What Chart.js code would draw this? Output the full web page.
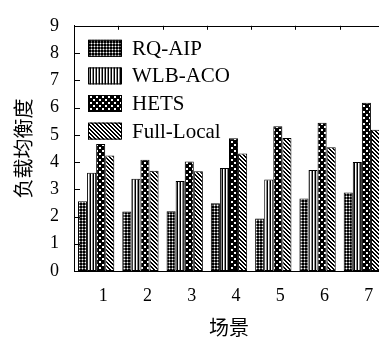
<!DOCTYPE html>
<html>
<head>
<meta charset="utf-8">
<script src="https://cdn.jsdelivr.net/npm/chart.js@4/dist/chart.umd.min.js"></script>
<style>
  html, body { margin: 0; padding: 0; background: #fff; overflow: hidden; }
  #wrap { width: 379px; height: 338px; overflow: hidden; }
</style>
</head>
<body>
<div id="wrap"><canvas id="c" width="390" height="338"></canvas></div>
<script>
// Scenarios on the x axis
const scenes = ['1', '2', '3', '4', '5', '6', '7'];
// Series names
const seriesNames = ['RQ-AIP', 'WLB-ACO', 'HETS', 'Full-Local'];
// Load-balance degree per scenario
const rqAip     = [2.56, 2.18, 2.19, 2.49, 1.93, 2.66, 2.88];
const wlbAco    = [3.61, 3.39, 3.30, 3.78, 3.36, 3.71, 4.00];
const hets      = [4.66, 4.08, 4.02, 4.87, 5.31, 5.44, 6.18];
const fullLocal = [4.24, 3.68, 3.66, 4.31, 4.88, 4.54, 5.18];
// Y axis ticks
const yTicks = [0, 1, 2, 3, 4, 5, 6, 7, 8, 9];

const SERIF = '"Liberation Serif", serif';
const CJK = '"Noto Sans CJK SC", sans-serif';
Chart.defaults.color = '#000';
Chart.defaults.font.family = SERIF;

// Build a repeating fill pattern from a tiny tile
function makePattern(w, h, paint) {
  const t = document.createElement('canvas');
  t.width = w; t.height = h;
  const g = t.getContext('2d');
  paint(g, w, h);
  return document.getElementById('c').getContext('2d').createPattern(t, 'repeat');
}
const px = (g, x, y, c) => { g.fillStyle = c; g.fillRect(x, y, 1, 1); };

// dense grid: black with light crossing lines
const patGrid = makePattern(3, 3, (g) => {
  g.fillStyle = '#000'; g.fillRect(0, 0, 3, 3);
  px(g, 1, 1, '#fff');
  px(g, 1, 0, '#666'); px(g, 1, 2, '#666');
  px(g, 0, 1, '#666'); px(g, 2, 1, '#666');
});
// vertical stripes
const patVert = makePattern(3, 1, (g) => {
  px(g, 0, 0, '#000'); px(g, 1, 0, '#fff'); px(g, 2, 0, '#888');
});
// staggered white squares on black
const patCheck = makePattern(6, 6, (g) => {
  g.fillStyle = '#000'; g.fillRect(0, 0, 6, 6);
  g.fillStyle = '#fff';
  g.fillRect(0, 0, 2, 2);
  g.fillRect(3, 3, 2, 2);
});
// diagonal stripes running down to the right
const patDiag = makePattern(4, 4, (g) => {
  g.fillStyle = '#fff'; g.fillRect(0, 0, 4, 4);
  for (let y = 0; y < 4; y++) for (let x = 0; x < 4; x++) {
    const d = ((x - y) % 4 + 4) % 4;
    if (d === 0 || d === 1) px(g, x, y, '#000');
  }
});

const fills = [patGrid, patVert, patCheck, patDiag];
const values = [rqAip, wlbAco, hets, fullLocal];

// Key drawn inside the plot, top-left
const keyPlugin = {
  id: 'insideKey',
  afterDatasetsDraw(chart) {
    const ctx = chart.ctx;
    const a = chart.chartArea;
    ctx.save();
    chart.data.datasets.forEach((ds, i) => {
      const cy = a.top + 22.5 + i * 27.6;
      const bx = a.left + 14, bw = 34, bh = 17;
      ctx.fillStyle = ds.backgroundColor;
      ctx.fillRect(bx, cy - bh / 2, bw, bh);
      ctx.strokeStyle = '#000';
      ctx.lineWidth = 1;
      ctx.strokeRect(bx + 0.5, cy - bh / 2 + 0.5, bw - 1, bh - 1);
      ctx.fillStyle = '#000';
      ctx.font = '21px ' + SERIF;
      ctx.textAlign = 'left';
      ctx.textBaseline = 'middle';
      ctx.fillText(ds.label, bx + bw + 10, cy + 1);
    });
    ctx.restore();
  }
};

// Frame top line and inward tick marks
const framePlugin = {
  id: 'frame',
  afterDatasetsDraw(chart) {
    const ctx = chart.ctx;
    const a = chart.chartArea;
    const xs = chart.scales.x, ys = chart.scales.y;
    ctx.save();
    ctx.strokeStyle = '#000';
    ctx.lineWidth = 1;
    ctx.beginPath();
    ctx.moveTo(a.left, Math.round(a.top) + 0.5);
    ctx.lineTo(a.right, Math.round(a.top) + 0.5);
    // y ticks pointing into the plot
    ys.ticks.forEach(t => {
      const y = Math.round(ys.getPixelForValue(t.value)) + 0.5;
      ctx.moveTo(a.left, y);
      ctx.lineTo(a.left + 6, y);
    });
    // top ticks at the boundaries between scenarios
    const half = (xs.getPixelForValue(1) - xs.getPixelForValue(0)) / 2;
    for (let i = 0; i < scenes.length - 1; i++) {
      const x = Math.round(xs.getPixelForValue(i) + half) + 0.5;
      ctx.moveTo(x, a.top);
      ctx.lineTo(x, a.top + 4);
    }
    ctx.stroke();
    ctx.restore();
  }
};

new Chart(document.getElementById('c'), {
  type: 'bar',
  data: {
    labels: scenes,
    datasets: seriesNames.map((name, i) => ({
      label: name,
      data: values[i],
      backgroundColor: fills[i],
      borderColor: '#000',
      borderWidth: 1,
      borderSkipped: false,
      categoryPercentage: 0.82,
      barPercentage: 1.0
    }))
  },
  options: {
    responsive: false,
    animation: false,
    devicePixelRatio: 1,
    layout: { padding: { top: 14, right: 6, left: 0, bottom: 0 } },
    plugins: { legend: { display: false }, tooltip: { enabled: false } },
    scales: {
      x: {
        type: 'category',
        offset: true,
        grid: { display: false, drawTicks: false },
        border: { display: true, color: '#000', width: 1 },
        ticks: { font: { size: 18, family: SERIF }, padding: 14, labelOffset: 7, maxRotation: 0 },
        title: { display: true, text: '场景', font: { size: 20, family: CJK, lineHeight: 1.1 }, padding: { top: 0, bottom: 0 } },
        afterFit(s) { s.height = 67; }
      },
      y: {
        min: 0, max: 9,
        afterBuildTicks(s) { s.ticks = yTicks.map(v => ({ value: v })); },
        grid: { display: false, drawTicks: false },
        border: { display: true, color: '#000', width: 1 },
        ticks: { font: { size: 18, family: SERIF }, padding: 15 },
        title: { display: true, text: '负载均衡度', font: { size: 20, family: CJK, lineHeight: 1.2 }, padding: { top: 11, bottom: 0 } },
        afterFit(s) { s.width = 74; }
      }
    }
  },
  plugins: [framePlugin, keyPlugin]
});
</script>
</body>
</html>
